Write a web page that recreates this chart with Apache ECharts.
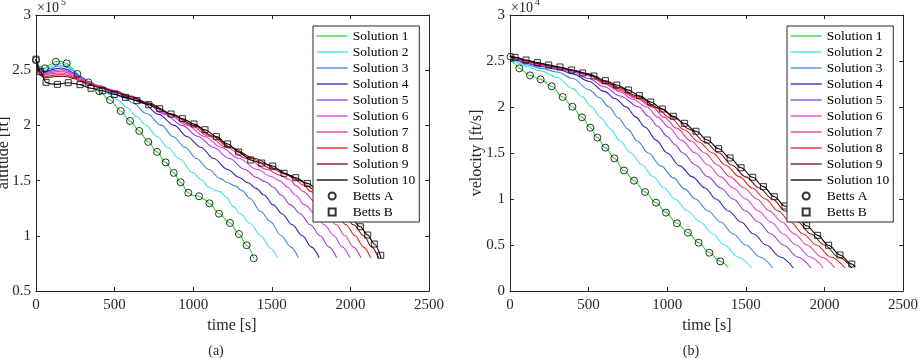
<!DOCTYPE html>
<html>
<head>
<meta charset="utf-8">
<script src="https://cdn.jsdelivr.net/npm/echarts@6/dist/echarts.min.js"></script>
<style>html,body{margin:0;padding:0;background:#fff}#c{width:922px;height:358px}</style>
</head>
<body>
<div id="c"></div>
<script>
// ---------- tick labels ----------
const timeTicks = [0, 500, 1000, 1500, 2000, 2500];
const altitudeTicks = [0.5, 1, 1.5, 2, 2.5, 3];
const velocityTicks = [0, 0.5, 1, 1.5, 2, 2.5, 3];
const solutionNames = ['Solution 1','Solution 2','Solution 3','Solution 4','Solution 5','Solution 6','Solution 7','Solution 8','Solution 9','Solution 10'];
const bettsNames = ['Betts A', 'Betts B'];

// ---------- altitude [x1e5 ft] vs time [s] ----------
const altSol1 = [[0,2.6],[30,2.53],[57,2.515],[90,2.55],[127,2.577],[160,2.58],[195,2.562],[230,2.52],[263,2.466],[300,2.42],[333,2.39],[400,2.31],[471,2.23],[539,2.13],[598,2.04],[657,1.95],[714,1.85],[770,1.76],[825,1.665],[876,1.57],[920,1.485],[969,1.39],[1000,1.365],[1037,1.358],[1070,1.33],[1103,1.294],[1164,1.2],[1234,1.116],[1291,1.016],[1340,0.914],[1385,0.796]];
const altSol2 = [[0,2.6],[30,2.52],[55,2.5],[90,2.53],[130,2.555],[165,2.56],[200,2.545],[240,2.5],[280,2.45],[330,2.4],[400,2.34],[470,2.28],[520,2.23],[580,2.16],[640,2.08],[700,2.0],[770,1.9],[840,1.8],[910,1.7],[1000,1.57],[1050,1.51],[1100,1.44],[1135,1.415],[1170,1.4],[1210,1.35],[1255,1.264],[1300,1.2],[1361,1.113],[1430,1.0],[1490,0.89],[1537,0.8]];
const altSol3 = [[0,2.6],[30,2.51],[55,2.49],[90,2.515],[130,2.535],[165,2.54],[200,2.525],[240,2.49],[280,2.44],[330,2.4],[400,2.35],[480,2.3],[560,2.25],[620,2.2],[700,2.11],[800,2.0],[870,1.9],[950,1.8],[1020,1.7],[1100,1.6],[1170,1.52],[1220,1.48],[1270,1.45],[1310,1.41],[1360,1.34],[1430,1.22],[1490,1.13],[1560,1.0],[1620,0.9],[1669,0.8]];
const altSol4 = [[0,2.6],[30,2.5],[55,2.48],[90,2.5],[130,2.515],[165,2.52],[200,2.505],[240,2.475],[280,2.44],[330,2.395],[400,2.355],[500,2.3],[600,2.24],[680,2.2],[780,2.1],[880,2.0],[960,1.9],[1050,1.8],[1130,1.7],[1220,1.6],[1290,1.53],[1350,1.48],[1400,1.43],[1450,1.37],[1510,1.28],[1565,1.2],[1630,1.1],[1695,1.0],[1750,0.9],[1802,0.8]];
const altSol5 = [[0,2.6],[30,2.49],[55,2.475],[90,2.49],[130,2.5],[165,2.505],[200,2.49],[240,2.465],[280,2.435],[330,2.395],[400,2.36],[500,2.31],[600,2.25],[700,2.2],[820,2.1],[930,2.0],[1030,1.9],[1130,1.8],[1230,1.7],[1330,1.6],[1400,1.53],[1460,1.49],[1510,1.44],[1560,1.37],[1620,1.28],[1680,1.2],[1745,1.1],[1808,1.0],[1862,0.9],[1913,0.8]];
const altSol6 = [[0,2.6],[30,2.48],[55,2.465],[90,2.478],[130,2.487],[165,2.49],[200,2.478],[240,2.455],[280,2.43],[330,2.39],[400,2.36],[500,2.315],[600,2.26],[710,2.2],[840,2.1],[965,2.0],[1070,1.9],[1180,1.8],[1290,1.7],[1410,1.6],[1490,1.54],[1550,1.5],[1600,1.44],[1650,1.37],[1710,1.28],[1775,1.2],[1835,1.1],[1895,1.0],[1948,0.9],[1997,0.8]];
const altSol7 = [[0,2.6],[30,2.47],[55,2.455],[90,2.465],[130,2.473],[165,2.475],[200,2.465],[240,2.445],[280,2.42],[330,2.385],[400,2.355],[500,2.315],[600,2.265],[715,2.2],[850,2.1],[985,2.0],[1100,1.9],[1210,1.8],[1340,1.7],[1470,1.6],[1550,1.55],[1610,1.51],[1660,1.45],[1700,1.4],[1780,1.3],[1850,1.2],[1910,1.1],[1965,1.0],[2018,0.9],[2067,0.8]];
const altSol8 = [[0,2.6],[30,2.46],[55,2.44],[90,2.45],[130,2.458],[165,2.46],[200,2.452],[240,2.435],[280,2.41],[330,2.38],[400,2.35],[500,2.31],[600,2.265],[718,2.2],[860,2.1],[1000,2.0],[1120,1.9],[1230,1.8],[1370,1.7],[1510,1.6],[1590,1.555],[1650,1.51],[1700,1.46],[1750,1.4],[1830,1.3],[1910,1.2],[1972,1.1],[2030,1.0],[2082,0.9],[2129,0.8]];
const altSol9 = [[0,2.6],[30,2.45],[55,2.43],[90,2.437],[130,2.443],[165,2.445],[200,2.44],[240,2.425],[280,2.4],[330,2.375],[400,2.345],[500,2.305],[600,2.26],[720,2.2],[865,2.1],[1010,2.0],[1130,1.9],[1240,1.8],[1390,1.7],[1540,1.6],[1610,1.55],[1680,1.5],[1730,1.45],[1780,1.4],[1870,1.3],[1950,1.2],[2020,1.1],[2085,1.0],[2135,0.9],[2178,0.8]];
const altSol10 = [[0,2.6],[30,2.48],[64,2.39],[100,2.375],[136,2.372],[170,2.38],[205,2.387],[240,2.38],[280,2.369],[350,2.336],[422,2.314],[498,2.281],[570,2.254],[642,2.224],[717,2.188],[787,2.151],[859,2.103],[931,2.061],[1005,2.013],[1075,1.961],[1147,1.898],[1219,1.832],[1289,1.759],[1366,1.687],[1436,1.659],[1506,1.632],[1578,1.566],[1652,1.526],[1726,1.475],[1800,1.41],[1870,1.33],[1940,1.25],[2005,1.16],[2063,1.082],[2110,1.007],[2152,0.926],[2195,0.8]];
const altBettsA = [[0,2.59],[57,2.517],[127,2.577],[195,2.562],[263,2.466],[333,2.39],[402,2.31],[471,2.23],[539,2.13],[598,2.04],[657,1.95],[714,1.85],[770,1.76],[825,1.665],[876,1.57],[920,1.485],[969,1.39],[1037,1.358],[1103,1.294],[1164,1.2],[1234,1.116],[1291,1.016],[1340,0.914],[1385,0.796]];
const altBettsB = [[0,2.6],[30,2.486],[64,2.39],[136,2.372],[205,2.387],[280,2.369],[350,2.336],[422,2.314],[498,2.281],[570,2.254],[642,2.224],[717,2.188],[787,2.151],[859,2.103],[931,2.061],[1005,2.013],[1075,1.961],[1147,1.898],[1219,1.832],[1289,1.759],[1366,1.687],[1436,1.659],[1506,1.632],[1578,1.566],[1652,1.526],[1726,1.475],[1798,1.42],[1870,1.35],[1940,1.26],[2005,1.17],[2063,1.082],[2110,1.007],[2152,0.926],[2193,0.823]];

// ---------- velocity [x1e4 ft/s] vs time [s] ----------
const velSol1 = [[0,2.55],[30,2.47],[59,2.42],[127,2.344],[195,2.3],[265,2.225],[335,2.109],[397,2.003],[458,1.888],[511,1.775],[556,1.667],[607,1.558],[664,1.442],[725,1.31],[789,1.199],[859,1.076],[929,0.96],[992,0.852],[1062,0.736],[1132,0.634],[1200,0.525],[1268,0.416],[1338,0.322],[1389,0.253]];
const velSol2 = [[0,2.55],[50,2.48],[100,2.44],[200,2.39],[300,2.32],[400,2.2],[460,2.11],[520,2.0],[580,1.88],[640,1.76],[700,1.63],[770,1.5],[840,1.37],[910,1.245],[980,1.12],[1050,1.0],[1130,0.87],[1210,0.75],[1290,0.62],[1365,0.5],[1450,0.37],[1537,0.25]];
const velSol3 = [[0,2.55],[50,2.5],[100,2.46],[200,2.42],[300,2.38],[400,2.31],[500,2.19],[570,2.1],[630,2.0],[690,1.88],[750,1.76],[810,1.63],[880,1.5],[960,1.36],[1040,1.23],[1110,1.11],[1180,1.0],[1260,0.87],[1340,0.75],[1420,0.62],[1500,0.5],[1590,0.37],[1671,0.25]];
const velSol4 = [[0,2.55],[50,2.51],[100,2.475],[200,2.44],[300,2.41],[400,2.36],[500,2.28],[600,2.17],[670,2.09],[740,2.0],[800,1.89],[860,1.78],[930,1.64],[1000,1.5],[1080,1.36],[1160,1.24],[1240,1.12],[1310,1.0],[1390,0.87],[1470,0.75],[1550,0.62],[1630,0.5],[1720,0.37],[1802,0.25]];
const velSol5 = [[0,2.55],[50,2.515],[100,2.485],[200,2.45],[300,2.42],[400,2.38],[500,2.31],[600,2.22],[700,2.12],[820,2.0],[880,1.9],[940,1.79],[1000,1.68],[1050,1.59],[1100,1.5],[1180,1.37],[1260,1.24],[1340,1.12],[1420,1.0],[1500,0.87],[1580,0.75],[1660,0.62],[1740,0.5],[1830,0.37],[1915,0.25]];
const velSol6 = [[0,2.55],[50,2.52],[100,2.49],[200,2.455],[300,2.425],[400,2.39],[500,2.34],[600,2.25],[700,2.165],[780,2.085],[870,2.0],[940,1.89],[1010,1.78],[1090,1.64],[1180,1.5],[1260,1.37],[1340,1.24],[1420,1.12],[1500,1.0],[1580,0.87],[1660,0.75],[1740,0.62],[1820,0.5],[1910,0.37],[1993,0.25]];
const velSol7 = [[0,2.55],[50,2.525],[100,2.495],[200,2.46],[300,2.43],[400,2.395],[500,2.35],[600,2.26],[700,2.18],[800,2.095],[905,2.0],[980,1.89],[1060,1.77],[1150,1.63],[1240,1.5],[1320,1.37],[1400,1.24],[1490,1.12],[1570,1.0],[1650,0.87],[1730,0.75],[1810,0.62],[1890,0.5],[1980,0.37],[2067,0.25]];
const velSol8 = [[0,2.55],[50,2.53],[100,2.5],[200,2.465],[300,2.433],[400,2.398],[500,2.355],[600,2.27],[700,2.195],[800,2.11],[930,1.99],[1020,1.88],[1110,1.75],[1200,1.62],[1290,1.5],[1370,1.37],[1460,1.24],[1540,1.12],[1625,1.0],[1705,0.87],[1785,0.75],[1865,0.62],[1950,0.5],[2040,0.37],[2131,0.25]];
const velSol9 = [[0,2.55],[50,2.535],[100,2.505],[200,2.47],[300,2.435],[400,2.4],[500,2.36],[600,2.28],[700,2.21],[800,2.125],[950,1.99],[1050,1.88],[1140,1.76],[1240,1.62],[1330,1.5],[1410,1.37],[1500,1.24],[1585,1.12],[1670,1.0],[1750,0.87],[1830,0.75],[1915,0.62],[2000,0.5],[2090,0.37],[2174,0.25]];
const velSol10 = [[0,2.55],[32,2.54],[102,2.511],[174,2.482],[246,2.457],[318,2.435],[392,2.402],[462,2.37],[534,2.337],[607,2.286],[679,2.239],[753,2.185],[823,2.123],[895,2.054],[969,1.978],[1039,1.899],[1109,1.823],[1183,1.736],[1255,1.641],[1327,1.547],[1400,1.446],[1470,1.34],[1544,1.236],[1612,1.134],[1681,1.025],[1749,0.924],[1819,0.818],[1887,0.71],[1957,0.605],[2027,0.497],[2099,0.391],[2174,0.293],[2195,0.262]];
const velBettsA = [[4,2.547],[59,2.42],[127,2.344],[195,2.3],[265,2.225],[335,2.109],[397,2.003],[458,1.888],[511,1.775],[556,1.667],[607,1.558],[664,1.442],[725,1.31],[789,1.199],[859,1.076],[929,0.96],[992,0.852],[1062,0.736],[1132,0.634],[1200,0.525],[1268,0.416],[1338,0.322]];
const velBettsB = [[32,2.54],[102,2.511],[174,2.482],[246,2.457],[318,2.435],[392,2.402],[462,2.37],[534,2.337],[607,2.286],[679,2.239],[753,2.185],[823,2.123],[895,2.054],[969,1.978],[1039,1.899],[1109,1.823],[1183,1.736],[1255,1.641],[1327,1.547],[1400,1.446],[1470,1.34],[1544,1.236],[1612,1.134],[1681,1.025],[1749,0.924],[1819,0.818],[1887,0.71],[1957,0.605],[2027,0.497],[2099,0.391],[2174,0.293]];

const altSolutions = [altSol1, altSol2, altSol3, altSol4, altSol5, altSol6, altSol7, altSol8, altSol9, altSol10];
const velSolutions = [velSol1, velSol2, velSol3, velSol4, velSol5, velSol6, velSol7, velSol8, velSol9, velSol10];

// ---------- styles ----------
const solutionColors = ['#33d433', '#3fe4e4', '#3a86d8', '#2424b8', '#9d38d8', '#e03ee0', '#e03c92', '#e01e1e', '#7a0a0a', '#000000'];
const FONT = '"Liberation Serif", "Times New Roman", serif';
const AX = '#262626';

const chart = echarts.init(document.getElementById('c'), null, {renderer: 'canvas'});

const plainLabel = v => String(Math.round(v * 1000) / 1000);

function xAxes(gi) {
  const base = {gridIndex: gi, type: 'value', min: timeTicks[0], max: timeTicks[timeTicks.length - 1],
    interval: timeTicks[1] - timeTicks[0], splitLine: {show: false},
    axisLine: {show: true, onZero: false, lineStyle: {color: AX, width: 1}},
    axisTick: {show: true, inside: true, length: 4, lineStyle: {color: AX, width: 1}}};
  return [
    Object.assign({}, base, {position: 'bottom',
      axisLabel: {show: true, margin: 7, fontSize: 15, fontFamily: FONT, color: AX, formatter: plainLabel,
        showMinLabel: true, showMaxLabel: true}}),
    Object.assign({}, base, {position: 'top', axisLabel: {show: false}})
  ];
}
function yAxes(gi, ticks) {
  const base = {gridIndex: gi, type: 'value', min: ticks[0], max: ticks[ticks.length - 1],
    interval: ticks[1] - ticks[0], splitLine: {show: false},
    axisLine: {show: true, onZero: false, lineStyle: {color: AX, width: 1}},
    axisTick: {show: true, inside: true, length: 4, lineStyle: {color: AX, width: 1}}};
  return [
    Object.assign({}, base, {position: 'left',
      axisLabel: {show: true, margin: 5, fontSize: 15, fontFamily: FONT, color: AX, formatter: plainLabel,
        showMinLabel: true, showMaxLabel: true}}),
    Object.assign({}, base, {position: 'right', axisLabel: {show: false}})
  ];
}

const series = [];
function addPanel(solutions, bettsA, bettsB, xi, yi) {
  solutions.forEach((d, i) => {
    series.push({name: solutionNames[i], type: 'line', xAxisIndex: xi, yAxisIndex: yi, data: d,
      showSymbol: false, symbol: 'none', smooth: 0.35, smoothMonotone: 'x',
      lineStyle: {color: solutionColors[i], width: 1.1}, itemStyle: {color: solutionColors[i]},
      z: 2, silent: true, animation: false});
  });
  series.push({name: bettsNames[0], type: 'scatter', xAxisIndex: xi, yAxisIndex: yi, data: bettsA,
    symbol: 'circle', symbolSize: 7, z: 3, animation: false,
    itemStyle: {color: 'rgba(255,255,255,0)', borderColor: '#000', borderWidth: 1}});
  series.push({name: bettsNames[1], type: 'scatter', xAxisIndex: xi, yAxisIndex: yi, data: bettsB,
    symbol: 'rect', symbolSize: 6, z: 3, animation: false,
    itemStyle: {color: 'rgba(255,255,255,0)', borderColor: '#000', borderWidth: 1}});
}
addPanel(altSolutions, altBettsA, altBettsB, 0, 0);
addPanel(velSolutions, velBettsA, velBettsB, 2, 2);

function legendAt(left) {
  const items = solutionNames.map((n, i) => ({name: n, itemStyle: {opacity: 0},
    lineStyle: {color: solutionColors[i], width: 1.3}}));
  items.push({name: bettsNames[0], icon: 'circle'});
  items.push({name: bettsNames[1], icon: 'path://M0,0H10V10H0Z'});
  return {data: items, orient: 'vertical', left: left, top: 26,
    itemWidth: 31, itemHeight: 7, itemGap: 2, padding: [3, 4, 3, 3], symbolKeepAspect: true,
    borderColor: AX, borderWidth: 1, backgroundColor: '#fff', selectedMode: false,
    textStyle: {fontSize: 13.5, fontFamily: FONT, color: '#000', lineHeight: 14}, z: 10};
}

function txt(text, x, y, size, rot, align) {
  return {type: 'text', x: x, y: y, rotation: rot || 0, z: 20,
    style: {text: text, fontSize: size, fontFamily: FONT, fill: AX,
      align: align || 'center', verticalAlign: 'middle'}};
}

chart.setOption({
  animation: false,
  backgroundColor: '#fff',
  grid: [
    {left: 36, top: 15, width: 393, height: 276},
    {left: 510, top: 15, width: 393, height: 276}
  ],
  xAxis: xAxes(0).concat(xAxes(1)),
  yAxis: yAxes(0, altitudeTicks).concat(yAxes(1, velocityTicks)),
  legend: [legendAt(313), legendAt(787)],
  series: series,
  graphic: [
    txt('\u00d710', 37, 8, 14, 0, 'left'),
    txt('5', 61, 2, 10, 0, 'left'),
    txt('\u00d710', 511, 8, 14, 0, 'left'),
    txt('4', 535, 2, 10, 0, 'left'),
    txt('altitude [ft]', 4, 153, 16, Math.PI / 2),
    txt('velocity [ft/s]', 477, 153, 16, Math.PI / 2),
    txt('time [s]', 232, 326, 16),
    txt('time [s]', 707, 326, 16),
    txt('(a)', 216, 351, 14),
    txt('(b)', 691, 351, 14)
  ]
});
</script>
</body>
</html>
